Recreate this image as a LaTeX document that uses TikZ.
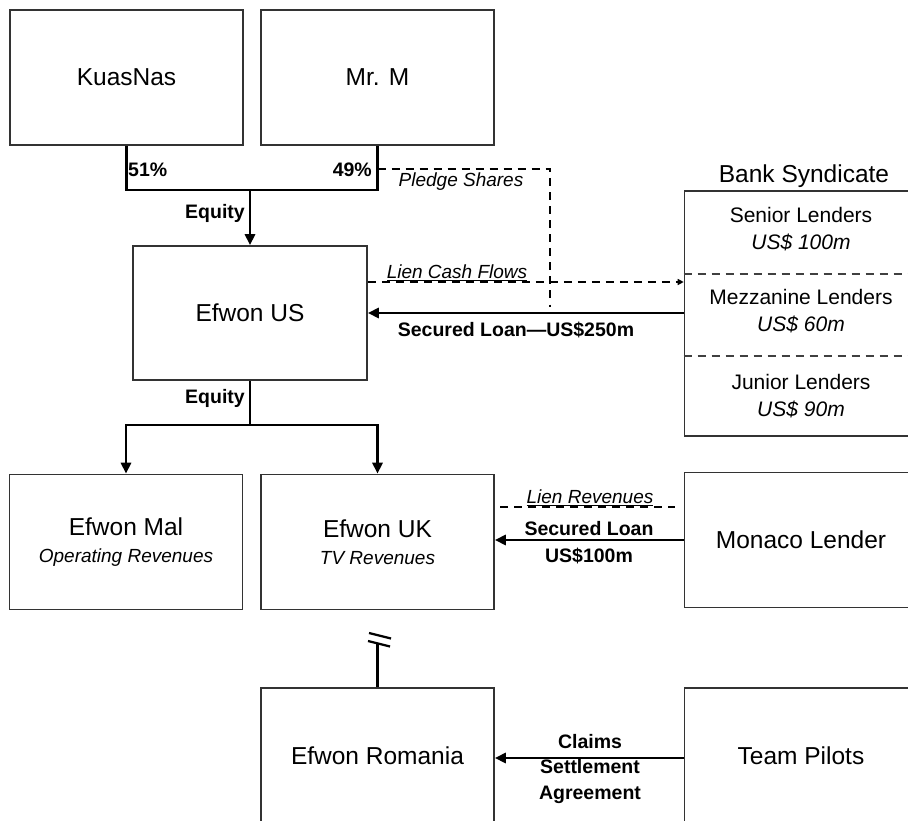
\documentclass[tikz,border=0pt]{standalone}
\usepackage{fontspec}
\setmainfont{Liberation Sans}
\usetikzlibrary{arrows.meta}
\begin{document}
\begin{tikzpicture}[x=1pt,y=-1pt,
  box/.style={draw=black!80, line width=1.6pt, minimum width=233pt, minimum height=135pt,
    inner sep=0pt, align=center, font=\fontsize{24.5}{26}\selectfont},
  conn/.style={line width=2.7pt, line join=miter},
  arr/.style={conn, -{Triangle[length=11pt,width=10pt]}},
  dsh/.style={line width=1.8pt, dash pattern=on 8pt off 6pt},
  lbl/.style={font=\bfseries\fontsize{19.5}{22}\selectfont, inner sep=0pt},
  ilbl/.style={font=\itshape\fontsize{19}{22}\selectfont, inner sep=0pt},
  tier/.style={align=center, font=\fontsize{21}{27}\selectfont, inner sep=0pt},
]
\useasboundingbox (0,0) rectangle (908,821);
\clip (0,0) rectangle (908,821);

% boxes
\node[box] (kn) at (126.5,77.5) {KuasNas};
\node[box] (mm) at (377.5,77.5) {Mr. M};
\node[box, minimum width=234pt, minimum height=134pt] (eu) at (250,313) {Efwon US};
\node[box] (em) at (126,542) {Efwon Mal\\[1pt]{\fontsize{19}{22}\selectfont\itshape Operating Revenues}};
\node[box] (uk) at (377.5,542) {Efwon UK\\[1pt]{\fontsize{19}{22}\selectfont\itshape TV Revenues}};
\node[box] (ml) at (801,540) {Monaco Lender};
\node[box, minimum height=245pt] (bs) at (801,313.5) {};
\node[box] (ro) at (377.5,755.5) {Efwon Romania};
\node[box] (tp) at (801,755.5) {Team Pilots};

% bank syndicate
\node[font=\fontsize{24.5}{26}\selectfont, inner sep=0pt] (bst) at (804,176) {Bank Syndicate};
\draw[dsh, line width=1.5pt, draw=black!75] (bs.west |- 0,274) -- (bs.east |- 0,274);
\draw[dsh, line width=1.5pt, draw=black!75] (bs.west |- 0,356) -- (bs.east |- 0,356);
\node[tier] (sen) at (801,229) {Senior Lenders\\\itshape US\$ 100m};
\node[tier] (mez) at (801,311) {Mezzanine Lenders\\\itshape US\$ 60m};
\node[tier] (jun) at (801,396) {Junior Lenders\\\itshape US\$ 90m};

% ownership
\draw[conn] (kn.south) -- (kn.south |- 0,190) -- (mm.south |- 0,190) -- (mm.south);
\node[lbl, anchor=west] (p51) at (128,170) {51\%};
\node[lbl, anchor=east] (p49) at (372,170) {49\%};
\draw[arr] (eu.north |- 0,190) -- (eu.north);
\node[lbl, anchor=east] (eq1) at (245,213) {Equity};

% pledge shares
\coordinate (pe) at (550,307);
\draw[dsh] (mm.south |- 0,169) -- (pe |- 0,169) -- (pe);
\node[ilbl] (ps) at (461,182) {Pledge Shares};

% lien cash flows and secured loan
\draw[dsh, -{Triangle[length=6pt,width=6pt]}] (eu.east |- 0,282) -- (bs.west |- 0,282);
\node[ilbl] (lcf) at (457,273) {\underline{Lien Cash Flows}};
\draw[arr] (bs.west |- 0,313) -- (eu.east |- 0,313);
\node[lbl] (sl) at (516,330) {Secured Loan—US\$250m};

% equity to subsidiaries
\coordinate (ej) at (eu.south |- 0,425);
\draw[conn] (eu.south) -- (ej);
\draw[arr] (ej) -| (em.north);
\draw[arr] (ej) -| (uk.north);
\node[lbl, anchor=east] (eq2) at (245,398) {Equity};

% monaco
\coordinate (lr1) at (500,507);
\coordinate (lr2) at (675,507);
\draw[dsh] (lr1) -- (lr2);
\node[ilbl] (lrv) at (590,498) {\underline{Lien Revenues}};
\draw[arr] (ml.west |- 0,540) -- (uk.east |- 0,540);
\node[lbl] (sl2) at (589,529) {Secured Loan};
\node[lbl] (sl3) at (589,556) {US\$100m};

% romania
\draw[conn] (ro.north) -- ++(0,-44) coordinate (rt);
\draw[line width=2.2pt] (369,633) -- (391,638.5);
\draw[line width=2.2pt] (368,641) -- (390,646.5);
\draw[arr] (tp.west |- 0,758) -- (ro.east |- 0,758);
\node[lbl] (c1) at (590,742) {Claims};
\node[lbl] (c2) at (590,767) {Settlement};
\node[lbl] (c3) at (590,795) {Agreement};
\end{tikzpicture}
\end{document}
